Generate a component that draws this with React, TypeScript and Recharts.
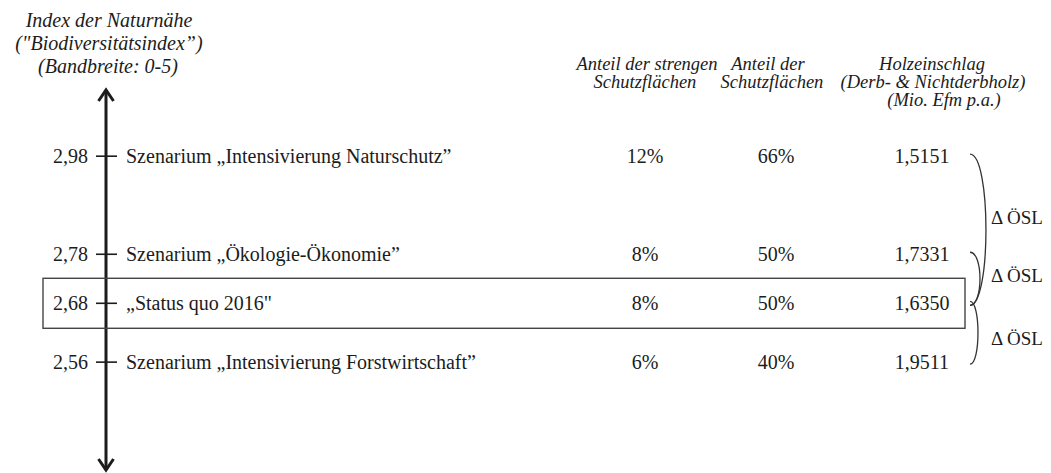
import React from "react";
import { ComposedChart, XAxis, YAxis, Scatter, ReferenceArea } from "recharts";

const scenarios = [
  "Szenarium „Intensivierung Naturschutz”",
  "Szenarium „Ökologie-Ökonomie”",
  "„Status quo 2016\"",
  "Szenarium „Intensivierung Forstwirtschaft”",
];
const naturIndex = [2.98, 2.78, 2.68, 2.56];
const strictShare = [12, 8, 8, 6];
const protectedShare = [66, 50, 50, 40];
const harvest = [1.5151, 1.7331, 1.635, 1.9511];
const highlighted = [false, false, true, false];
// pairs of rows compared by the ΔÖSL brackets
const deltaPairs = [
  [0, 2],
  [1, 2],
  [2, 3],
];
const deltaLabel = "Δ ÖSL";

const rows = scenarios.map((name, i) => ({
  name,
  index: naturIndex[i],
  strict: strictShare[i],
  prot: protectedShare[i],
  harvest: harvest[i],
  box: highlighted[i],
}));

const serif = "'Liberation Serif', 'Times New Roman', serif";
const ink = "#1c1c1c";
const AXIS_X = 106;

const comma = (v: number, d: number) => v.toFixed(d).replace(".", ",");

function AxisTick(props: any) {
  const { y, payload } = props;
  return (
    <g>
      <line x1={AXIS_X - 10} x2={AXIS_X + 11} y1={y} y2={y} stroke={ink} strokeWidth={1.6} />
      <text x={88} y={y} dy="0.34em" textAnchor="end" fontFamily={serif} fontSize={20} fill={ink}>
        {comma(payload.value, 2)}
      </text>
    </g>
  );
}

function RowShape(props: any) {
  const { cy, payload } = props;
  const t = { fontFamily: serif, fontSize: 20, fill: ink };
  return (
    <g>
      {payload.box && (
        <rect x={43} y={cy - 25} width={922} height={50} fill="none" stroke="#444" strokeWidth={1.4} />
      )}
      <text x={126} y={cy} dy="0.34em" {...t}>
        {payload.name}
      </text>
      <text x={645} y={cy} dy="0.34em" textAnchor="middle" {...t}>
        {payload.strict}%
      </text>
      <text x={776} y={cy} dy="0.34em" textAnchor="middle" {...t}>
        {payload.prot}%
      </text>
      <text x={922} y={cy} dy="0.34em" textAnchor="middle" {...t}>
        {comma(payload.harvest, 4)}
      </text>
    </g>
  );
}

const bulges = [16, 10, 8];
const labelShift = [-12, -3, 6];

function makeBracket(i: number) {
  return (props: any) => {
    const { y, height } = props;
    const x0 = 970;
    const y0 = y - 2;
    const y1 = y + height + 2;
    const c = x0 + bulges[i] * 1.33;
    return (
      <g>
        <path
          d={`M ${x0} ${y0} C ${c} ${y0}, ${c} ${y1}, ${x0} ${y1}`}
          fill="none"
          stroke="#333"
          strokeWidth={1.3}
        />
        <text
          x={991}
          y={(y0 + y1) / 2 + labelShift[i]}
          dy="0.34em"
          fontFamily={serif}
          fontSize={19}
          fill={ink}
        >
          {deltaLabel}
        </text>
      </g>
    );
  };
}

export default function App() {
  const italic = { fontFamily: serif, fontStyle: "italic" as const, fill: ink };
  return (
    <div style={{ position: "absolute", left: 0, top: 0, width: 1051, height: 473, background: "#fff" }}>
      <svg width={0} height={0} style={{ position: "absolute" }}>
        <defs>
          <marker
            id="axisArrow"
            markerUnits="userSpaceOnUse"
            markerWidth={20}
            markerHeight={20}
            refX={12}
            refY={9}
            orient="auto-start-reverse"
            style={{ overflow: "visible" }}
          >
            <path d="M 1 1.5 L 12 9 L 1 16.5" fill="none" stroke={ink} strokeWidth={3} />
          </marker>
        </defs>
      </svg>
      <ComposedChart width={1051} height={473} data={rows} margin={{ top: 90, right: 0, bottom: 3, left: 0 }}>
        <XAxis dataKey="name" type="category" hide />
        <YAxis
          type="number"
          domain={[2.34, 3.115]}
          allowDataOverflow
          ticks={naturIndex}
          interval={0}
          width={AXIS_X}
          tickLine={false}
          axisLine={{ stroke: ink, strokeWidth: 3, markerStart: "url(#axisArrow)", markerEnd: "url(#axisArrow)" }}
          tick={AxisTick}
        />
        {deltaPairs.map(([a, b], i) => (
          <ReferenceArea
            key={i}
            y1={naturIndex[a]}
            y2={naturIndex[b]}
            ifOverflow="visible"
            shape={makeBracket(i)}
          />
        ))}
        <Scatter dataKey="index" isAnimationActive={false} shape={RowShape} />
        <text textAnchor="middle" fontSize={20} {...italic}>
          <tspan x={109} y={27}>Index der Naturnähe</tspan>
          <tspan x={109} y={50}>("Biodiversitätsindex”)</tspan>
          <tspan x={108} y={73}>(Bandbreite: 0-5)</tspan>
        </text>
        <text textAnchor="middle" fontSize={18.5} {...italic}>
          <tspan x={647} y={70}>Anteil der strengen</tspan>
          <tspan x={645} y={88}>Schutzflächen</tspan>
        </text>
        <text textAnchor="middle" fontSize={18.5} {...italic}>
          <tspan x={768} y={70}>Anteil der</tspan>
          <tspan x={772} y={88}>Schutzflächen</tspan>
        </text>
        <text textAnchor="middle" fontSize={18.5} {...italic}>
          <tspan x={932} y={70}>Holzeinschlag</tspan>
          <tspan x={933} y={88}>(Derb- &amp; Nichtderbholz)</tspan>
          <tspan x={944} y={106}>(Mio. Efm p.a.)</tspan>
        </text>
      </ComposedChart>
    </div>
  );
}
